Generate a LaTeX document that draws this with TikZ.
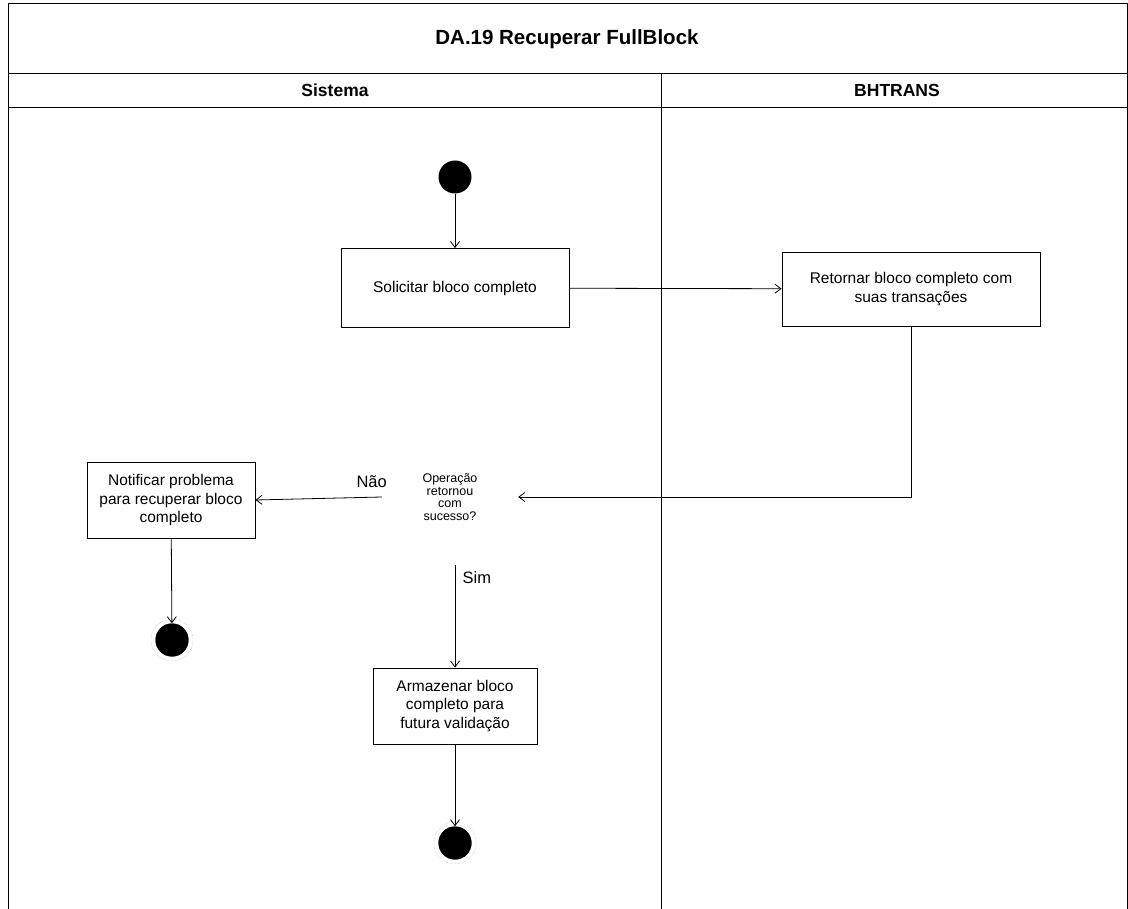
\documentclass[tikz,border=0pt]{standalone}
\usepackage{fontspec}
\setmainfont{Liberation Sans}
\usetikzlibrary{shapes.geometric, arrows.meta}

\tikzset{
    >={Straight Barb[length=6pt, width=9pt]},
    acao/.style={draw, thick, rectangle, align=center, font=\fontsize{15.5}{18.5}\selectfont},
    inicio/.style={circle, fill=black, minimum size=33pt, inner sep=0pt},
    fim/.style={circle, draw=gray!60, densely dotted, minimum size=42pt, inner sep=0pt,
        path picture={\fill[black] (path picture bounding box.center) circle (16.5pt);}},
    decisao/.style={diamond, draw=none, align=center, minimum size=136pt, inner sep=0pt,
        font=\fontsize{12.5}{12.5}\selectfont},
    rotulo/.style={font=\fontsize{16.5}{18}\selectfont},
    raia/.style={font=\bfseries\fontsize{17.5}{20}\selectfont},
    fluxo/.style={->, thick},
}

\begin{document}
\begin{tikzpicture}[x=1pt, y=-1pt]
    \useasboundingbox (0,0) rectangle (1128,909);

    % Moldura e raias
    \draw[thick] (8,909) -- (8,3) -- (1127,3) -- (1127,909);
    \draw[thick] (8,73) -- (1127,73);
    \draw[thick] (8,107) -- (1127,107);
    \draw[thick] (661,73) -- (661,909);

    \node[font=\bfseries\fontsize{20.5}{23}\selectfont] (titulo) at (567,39) {DA.19 Recuperar FullBlock};
    \node[raia] (sistema) at (335,90) {Sistema};
    \node[raia] (bhtrans) at (897,90) {BHTRANS};

    % Nos
    \node[inicio] (ini) at (455,177) {};
    \node[acao, minimum width=228pt, minimum height=79pt] (solicitar) at (455,288) {Solicitar bloco completo};
    \node[acao, minimum width=258pt, minimum height=74pt] (retornar) at (911,289)
        {Retornar bloco completo com\\suas transações};
    \node[decisao] (sucesso) at (450,497) {Operação\\retornou\\com\\sucesso?};
    \node[acao, minimum width=168pt, minimum height=76pt] (notificar) at (171,500)
        {Notificar problema\\para recuperar bloco\\completo};
    \node[inicio] (fimerro) at (172,640) {};
    \node[fim] at (fimerro) {};
    \node[acao, minimum width=164pt, minimum height=76pt] (armazenar) at (455,706)
        {Armazenar bloco\\completo para\\futura validação};
    \node[inicio] (fimok) at (455,843) {};
    \node[fim] at (fimok) {};

    % Fluxos
    \draw[fluxo] (ini) -- (solicitar);
    \draw[fluxo] (solicitar) -- (retornar);
    \draw[fluxo] (retornar.south) |- (sucesso.east);
    \draw[fluxo] (sucesso.west) -- (notificar.east)
        node[rotulo, pos=0.08, above=6pt] (nao) {Não};
    \draw[fluxo] (sucesso.south -| solicitar) -- (armazenar.north)
        node[rotulo, pos=0.12, right=4pt] (sim) {Sim};
    \draw[fluxo] (notificar) -- (fimerro);
    \draw[fluxo] (armazenar) -- (fimok);
\end{tikzpicture}
\end{document}
